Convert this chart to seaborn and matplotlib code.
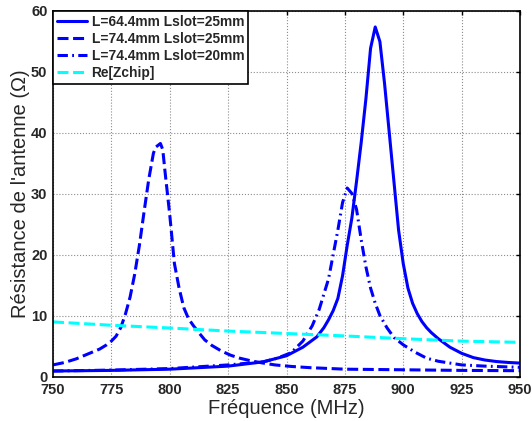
"""Résistance d'antenne en fonction de la fréquence (style MATLAB)."""

import numpy as np
import pandas as pd
import matplotlib
matplotlib.use("Agg")
import matplotlib.pyplot as plt
import seaborn as sns

# L=64.4mm Lslot=25mm
freq_a = [750, 775, 800, 825, 840, 850, 857, 863, 866, 868, 870, 872, 874, 876,
          878, 880, 882, 884, 886, 888, 890, 892, 894, 896, 898, 900, 902, 904,
          906, 908, 910, 912, 915, 920, 925, 930, 935, 940, 945, 950]
res_a = [0.9, 1.0, 1.2, 1.7, 2.4, 3.4, 4.8, 6.5, 8.0, 9.3, 10.8, 12.8, 16.5, 21.5,
         26.0, 32.0, 38.4, 45.5, 53.8, 57.3, 54.9, 48.0, 40.0, 32.0, 24.0, 18.5,
         14.5, 12.0, 10.3, 9.0, 8.0, 7.2, 6.2, 4.8, 3.8, 3.1, 2.7, 2.45, 2.3, 2.2]

# L=74.4mm Lslot=25mm
freq_b = [750, 755, 760, 765, 770, 773, 775, 777, 779, 781, 783, 785, 787, 789,
          791, 793, 794, 796, 797, 798, 800, 802, 804, 806, 808, 810, 812, 815,
          818, 822, 826, 830, 835, 840, 845, 852, 860, 875, 900, 925, 950]
res_b = [1.9, 2.3, 2.9, 3.7, 4.5, 5.2, 5.8, 6.6, 8.0, 10.2, 13.0, 16.8, 21.5, 27.0,
         32.3, 36.6, 37.6, 38.2, 37.2, 33.5, 26.5, 18.5, 14.5, 11.3, 9.5, 8.4, 7.4,
         6.0, 5.1, 4.2, 3.5, 3.0, 2.55, 2.2, 1.9, 1.65, 1.45, 1.2, 1.1, 1.0, 0.95]

# L=74.4mm Lslot=20mm
freq_c = [750, 775, 800, 825, 840, 846, 852, 857, 861, 864, 866, 868, 870, 872,
          874, 876, 878, 880, 882, 884, 886, 888, 890, 893, 896, 900, 905, 910,
          915, 925, 935, 950]
res_c = [0.9, 1.05, 1.3, 1.9, 2.4, 3.0, 3.9, 5.8, 8.3, 11.0, 13.5, 16.0, 20.0, 24.0,
         28.5, 30.9, 30.0, 27.4, 22.4, 18.0, 14.5, 12.0, 10.0, 8.0, 6.4, 5.2, 4.0,
         3.0, 2.5, 1.9, 1.7, 1.5]

# Re[Zchip]
freq_chip = [750, 775, 800, 825, 850, 875, 900, 925, 950]
res_chip = [8.95, 8.4, 7.95, 7.45, 7.05, 6.65, 6.2, 5.8, 5.6]

labels = ["L=64.4mm Lslot=25mm", "L=74.4mm Lslot=25mm",
          "L=74.4mm Lslot=20mm", "Re[Zchip]"]

sns.set_style("white")
plt.rcParams["font.family"] = ["Liberation Sans", "DejaVu Sans"]

fig = plt.figure(figsize=(5.32, 4.21), dpi=100)
ax = fig.add_axes([53 / 532, 1 - 376.5 / 421, 467 / 532, 366 / 421])

series = [
    (freq_a, res_a, "-", "#0000ff"),
    (freq_b, res_b, (0, (3.6, 1.5)), "#0000ff"),
    (freq_c, res_c, (0, (3.4, 1.4, 0.6, 1.4)), "#0000ff"),
    (freq_chip, res_chip, (0, (3.6, 1.5)), "#00ffff"),
]
for (f, r, ls, col), lab in zip(series, labels):
    df = pd.DataFrame({"f": f, "r": r})
    sns.lineplot(data=df, x="f", y="r", ax=ax, color=col, linestyle=ls,
                 linewidth=2.2, label=lab, sort=False, estimator=None)

ax.set_xlim(750, 950)
ax.set_ylim(0, 60)
ax.set_xticks(np.arange(750, 951, 25))
ax.set_yticks(np.arange(0, 61, 10))
ax.grid(True, color="#8c8c8c", linestyle=":", linewidth=0.8)
ax.tick_params(direction="in", length=3, width=1, top=True, right=True,
               labelsize=10.5, color="black")
ax.tick_params(axis="x", pad=5)
ax.tick_params(axis="y", pad=4)
for lbl in ax.get_xticklabels() + ax.get_yticklabels():
    lbl.set_fontweight("bold")
for sp in ax.spines.values():
    sp.set_color("black")
    sp.set_linewidth(1.2)

ax.set_xlabel("Fréquence (MHz)", fontsize=14.5, labelpad=1)
ax.set_ylabel("Résistance de l'antenne (Ω)", fontsize=14.5, labelpad=1)

leg = ax.legend(loc="upper left", borderaxespad=0, fancybox=False,
                edgecolor="black", framealpha=1, handlelength=2.2,
                handletextpad=0.3, labelspacing=0.22, borderpad=0.3,
                prop={"weight": "bold", "size": 9.9})
leg.get_frame().set_linewidth(1.2)

fig.savefig("out.png", dpi=100)
